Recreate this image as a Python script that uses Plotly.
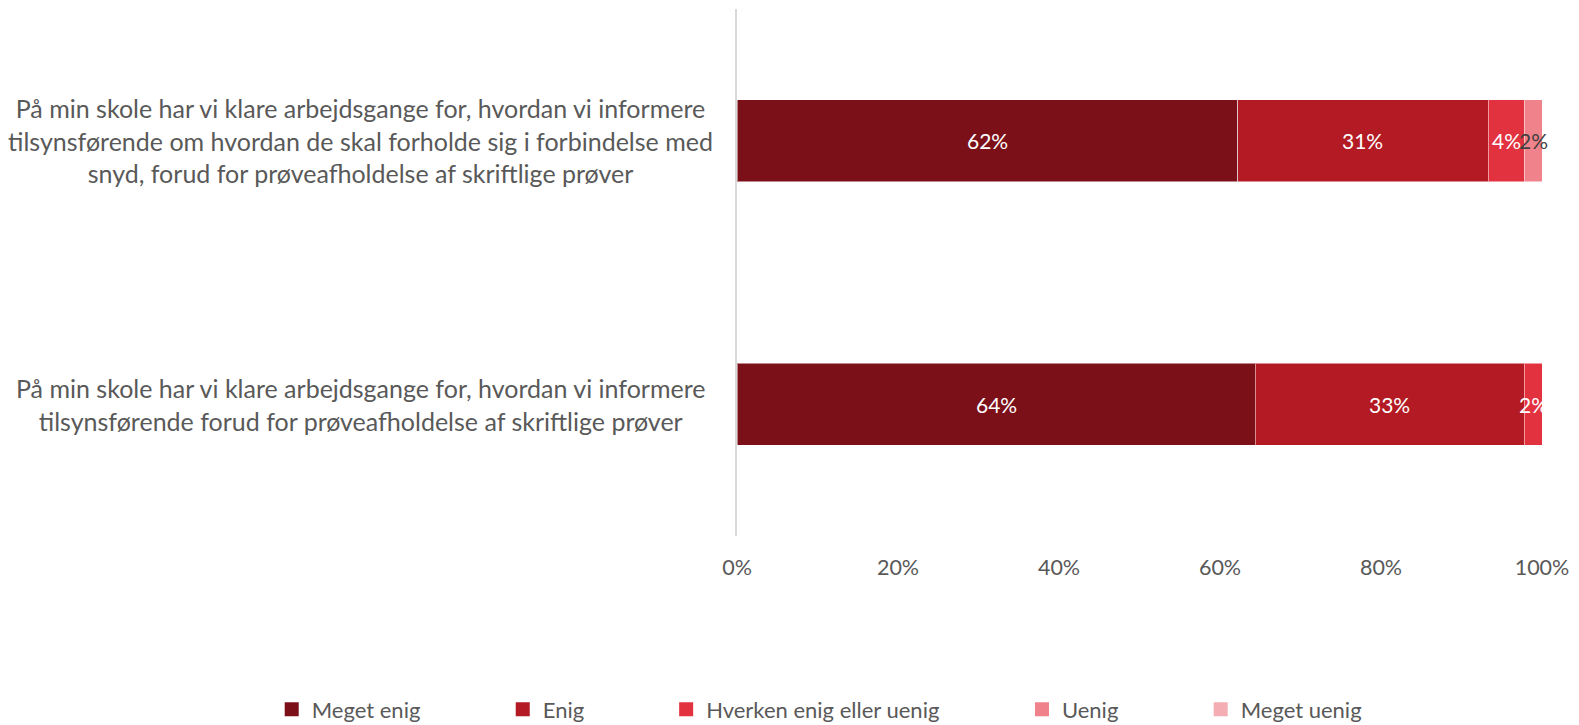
import plotly.graph_objects as go

# Survey statements (top to bottom) and answer shares in percent
statements = [
    "På min skole har vi klare arbejdsgange for, hvordan vi informere<br>tilsynsførende om hvordan de skal forholde sig i forbindelse med<br>snyd, forud for prøveafholdelse af skriftlige prøver",
    "På min skole har vi klare arbejdsgange for, hvordan vi informere<br>tilsynsførende forud for prøveafholdelse af skriftlige prøver",
]
categories = ["snyd", "forud"]

meget_enig = [62.2, 64.4]
enig = [31.1, 33.4]
hverken = [4.5, 2.2]
uenig = [2.2, 0.0]
meget_uenig = [0.0, 0.0]

answers = ["Meget enig", "Enig", "Hverken enig eller uenig", "Uenig", "Meget uenig"]
values = [meget_enig, enig, hverken, uenig, meget_uenig]
colors = ["#7B1019", "#B31A23", "#E3323F", "#EF828A", "#F4AEB3"]
label_colors = ["white", "white", "white", "#404040", "#404040"]
legend_x = [-0.578, -0.291, -0.088, 0.354, 0.576]

grey = "#595959"
font = "Lato, Calibri, Carlito, sans-serif"

fig = go.Figure()
start = [0.0] * len(categories)
for i, (name, vals, col, lc) in enumerate(zip(answers, values, colors, label_colors)):
    lg = "legend" if i == 0 else f"legend{i + 1}"
    fig.add_trace(go.Bar(
        y=categories,
        x=vals,
        name=name,
        orientation="h",
        showlegend=False,
        marker=dict(color=col, line=dict(color="rgba(255,255,255,0.5)", width=1)),
        hovertemplate="%{x:.1f}%<extra>" + name + "</extra>",
    ))
    # legend entry with a square marker like the original
    fig.add_trace(go.Scatter(
        x=[None], y=[None], mode="markers", name=name, legend=lg,
        marker=dict(symbol="square", size=14, color=col),
        hoverinfo="skip",
    ))
    # data labels at the middle of each segment
    for j, (cat, v) in enumerate(zip(categories, vals)):
        if v > 0:
            fig.add_annotation(
                x=start[j] + v / 2, y=cat, xref="x", yref="y",
                text=f"{v:.0f}%", showarrow=False,
                font=dict(size=21, color=lc, family=font),
            )
        start[j] += v

# centered multi-line category labels
for cat, txt in zip(categories, statements):
    fig.add_annotation(
        x=-0.468, xref="paper", y=cat, yref="y",
        text=txt, showarrow=False, xanchor="center", yanchor="middle",
        align="center", font=dict(size=25, color=grey, family=font),
    )

legends = {}
for i, lx in enumerate(legend_x):
    key = "legend" if i == 0 else f"legend{i + 1}"
    legends[key] = dict(
        orientation="h", x=lx, xanchor="left", y=-0.329, yanchor="middle",
        font=dict(size=22, color=grey, family=font),
        bgcolor="rgba(0,0,0,0)", itemwidth=30,
    )

fig.update_layout(
    barmode="stack",
    bargap=0.69,
    width=1571,
    height=717,
    margin=dict(l=729, r=37, t=1, b=189, autoexpand=False),
    paper_bgcolor="white",
    plot_bgcolor="white",
    font=dict(family=font, color=grey, size=21),
    showlegend=True,
    xaxis=dict(
        range=[0, 100], tickvals=[0, 20, 40, 60, 80, 100],
        ticktext=["0%", "20%", "40%", "60%", "80%", "100%"],
        showgrid=False, zeroline=False, showline=False,
        ticks="", ticklabelstandoff=16,
        tickfont=dict(size=21.5, color=grey, family=font),
    ),
    yaxis=dict(
        categoryorder="array", categoryarray=categories, autorange="reversed",
        showticklabels=False, showgrid=False, zeroline=False,
        showline=True, linecolor="#D9D9D9", linewidth=1.5, ticks="",
    ),
    **legends,
)

fig.write_html("out.html")
